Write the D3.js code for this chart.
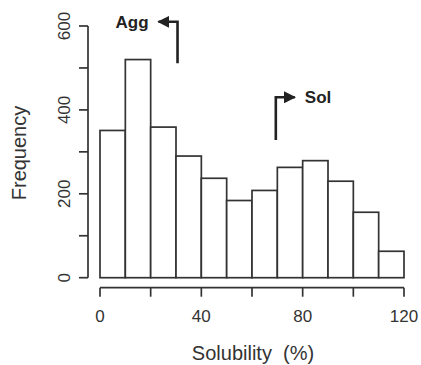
<!DOCTYPE html>
<html>
<head>
<meta charset="utf-8">
<script src="https://cdn.jsdelivr.net/npm/d3@7"></script>
<style>
  body { margin: 0; background: #fff; }
  svg { display: block; font-family: "Liberation Sans", Arial, sans-serif; }
</style>
</head>
<body>
<svg id="chart" width="421" height="365"></svg>
<script>
// histogram bins (solubility %, width 10)
const binStarts = [0, 10, 20, 30, 40, 50, 60, 70, 80, 90, 100, 110];
const binWidth = 10;
const counts = [351, 520, 359, 290, 237, 184, 208, 263, 279, 230, 156, 63];

const xTicks = [0, 20, 40, 60, 80, 100, 120];
const xTickLabels = [0, 40, 80, 120];
const yTicks = [0, 100, 200, 300, 400, 500, 600];
const yTickLabels = [0, 200, 400, 600];

// arrows: x position, vertical extent (in counts), direction, label
const arrows = [
  { x: 30.6, y0: 511, y1: 610, dir: -1, label: "Agg" },
  { x: 69.4, y0: 328, y1: 430, dir: 1, label: "Sol" }
];

const svg = d3.select("#chart");
const ink = "#333";

const x = d3.scaleLinear().domain([0, 120]).range([100, 404]);
const y = d3.scaleLinear().domain([0, 600]).range([277.7, 26]);

// bars
svg.append("g")
  .selectAll("rect")
  .data(counts)
  .enter()
  .append("rect")
  .attr("x", (d, i) => x(binStarts[i]))
  .attr("y", (d) => y(d))
  .attr("width", (d, i) => x(binStarts[i] + binWidth) - x(binStarts[i]))
  .attr("height", (d) => y(0) - y(d))
  .attr("fill", "#fff")
  .attr("stroke", ink)
  .attr("stroke-width", 1.7);

// x axis (offset below the plot, R style)
const xAxis = svg.append("g").attr("transform", "translate(0,287.7)");
xAxis.append("line")
  .attr("x1", x(0)).attr("x2", x(120))
  .attr("stroke", ink).attr("stroke-width", 1.7);
xAxis.selectAll(".tick")
  .data(xTicks)
  .enter()
  .append("line")
  .attr("x1", (d) => x(d)).attr("x2", (d) => x(d))
  .attr("y1", 0).attr("y2", 9)
  .attr("stroke", ink).attr("stroke-width", 1.7);
xAxis.selectAll(".lab")
  .data(xTickLabels)
  .enter()
  .append("text")
  .attr("x", (d) => x(d))
  .attr("y", 34)
  .attr("text-anchor", "middle")
  .attr("font-size", 17)
  .attr("fill", ink)
  .text((d) => d);

// y axis
const yAxis = svg.append("g").attr("transform", "translate(88,0)");
yAxis.append("line")
  .attr("y1", y(0)).attr("y2", y(600))
  .attr("stroke", ink).attr("stroke-width", 1.7);
yAxis.selectAll(".tick")
  .data(yTicks)
  .enter()
  .append("line")
  .attr("y1", (d) => y(d)).attr("y2", (d) => y(d))
  .attr("x1", 0).attr("x2", -9)
  .attr("stroke", ink).attr("stroke-width", 1.7);
yAxis.selectAll(".lab")
  .data(yTickLabels)
  .enter()
  .append("text")
  .attr("transform", (d) => "translate(-18," + y(d) + ") rotate(-90)")
  .attr("text-anchor", "middle")
  .attr("font-size", 17)
  .attr("fill", ink)
  .text((d) => d);

// axis titles
svg.append("text")
  .attr("x", 253)
  .attr("y", 360)
  .attr("text-anchor", "middle")
  .attr("font-size", 20)
  .attr("fill", ink)
  .attr("xml:space", "preserve")
  .text("Solubility  (%)");

svg.append("text")
  .attr("transform", "translate(26,153) rotate(-90)")
  .attr("text-anchor", "middle")
  .attr("font-size", 20)
  .attr("fill", ink)
  .text("Frequency");

// arrows
svg.append("defs")
  .append("marker")
  .attr("id", "arrowhead")
  .attr("viewBox", "0 -5 10 10")
  .attr("refX", 9)
  .attr("refY", 0)
  .attr("orient", "auto")
  .attr("markerUnits", "userSpaceOnUse")
  .attr("markerWidth", 12)
  .attr("markerHeight", 12)
  .append("path")
  .attr("d", "M 0,-5 L 10,0 L 0,5 Z")
  .attr("fill", "#222");

const arrowG = svg.append("g");
arrows.forEach((a) => {
  const ax = x(a.x);
  const top = y(a.y1);
  const tip = ax + a.dir * 19;
  arrowG.append("path")
    .attr("d", "M " + ax + "," + y(a.y0) + " L " + ax + "," + top + " L " + tip + "," + top)
    .attr("fill", "none")
    .attr("stroke", "#222")
    .attr("stroke-width", 2.6)
    .attr("marker-end", "url(#arrowhead)");
  arrowG.append("text")
    .attr("x", tip + a.dir * 10)
    .attr("y", top + 6)
    .attr("text-anchor", a.dir < 0 ? "end" : "start")
    .attr("font-size", 17)
    .attr("font-weight", "bold")
    .attr("fill", "#222")
    .text(a.label);
});
</script>
</body>
</html>
